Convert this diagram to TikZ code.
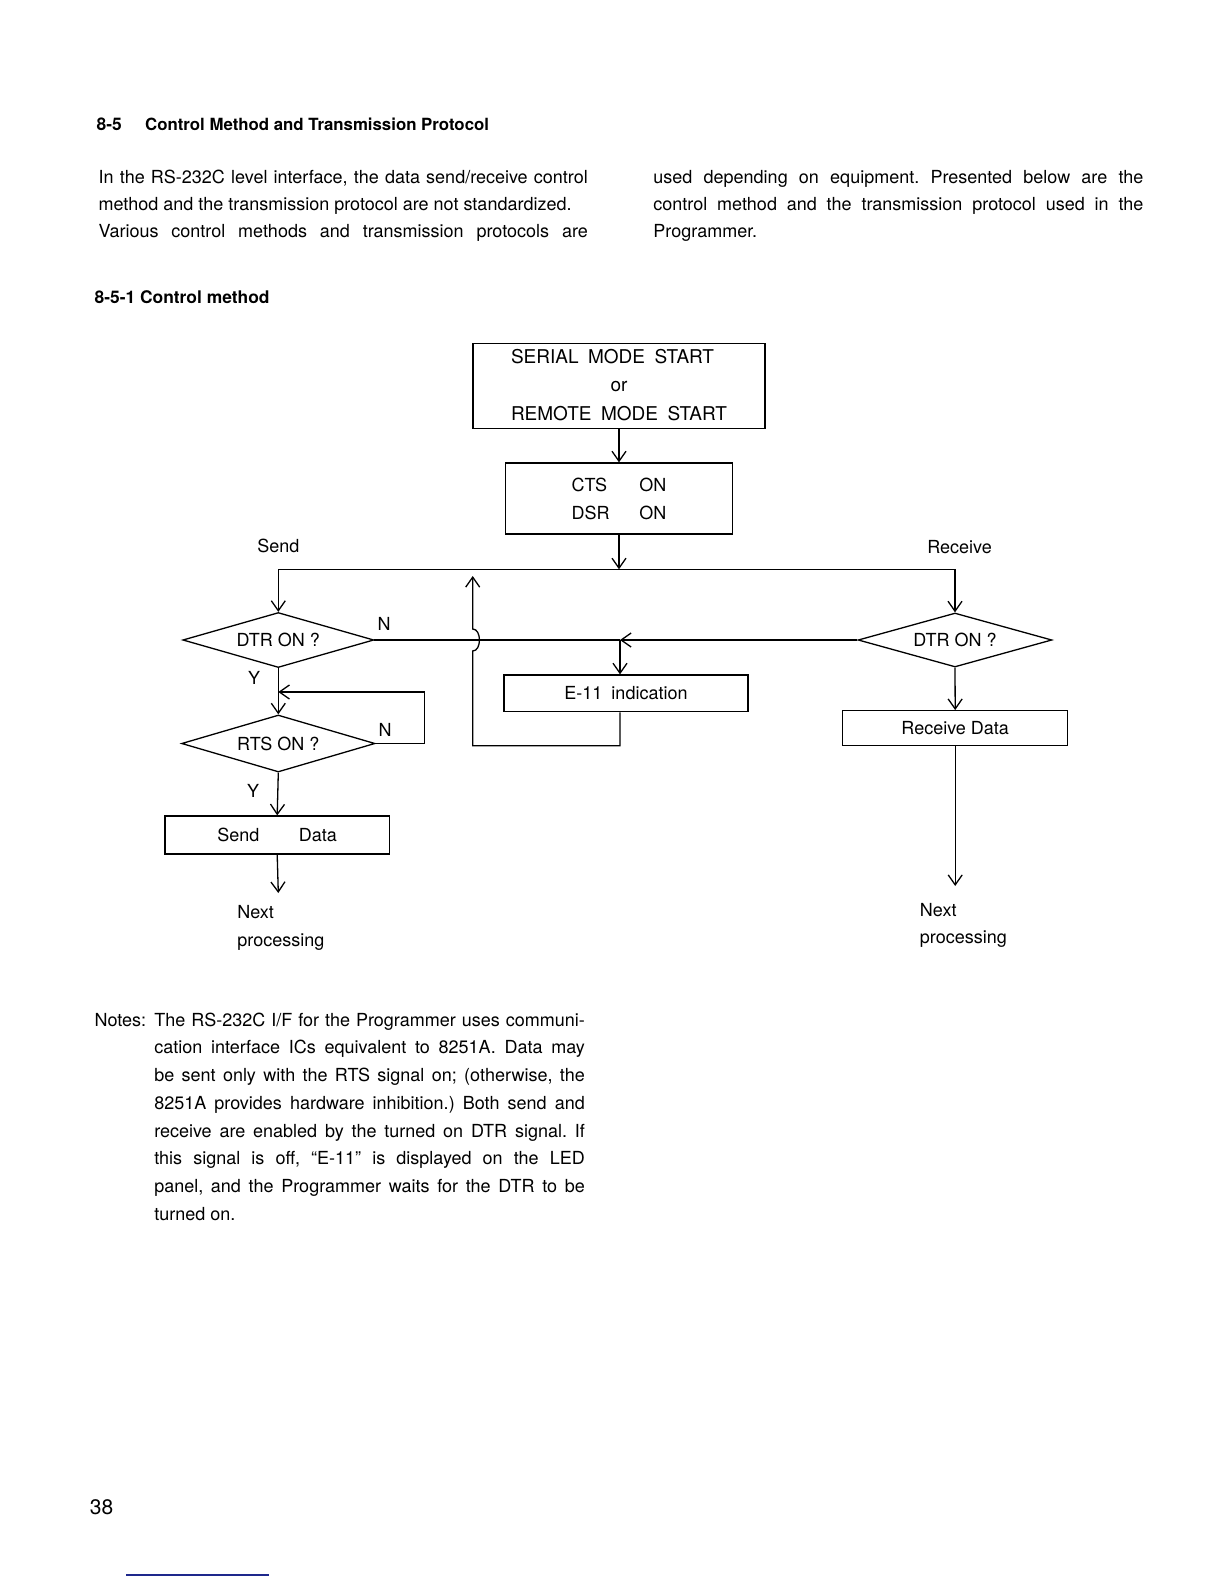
\documentclass[tikz,border=0pt]{standalone}
\usepackage{fontspec}
\setmainfont{TeX Gyre Heros}
\usetikzlibrary{shapes.geometric,arrows.meta}
\definecolor{rulenavy}{RGB}{30,40,140}
\newcommand{\spreadline}[2]{\makebox[#1][s]{#2}}
\frenchspacing

\tikzset{
  box/.style={draw, inner sep=0pt},
  decision/.style={draw, diamond, aspect=3.5, inner sep=0pt},
  txt/.style={anchor=base west, inner sep=0pt},
  yn/.style={inner sep=0pt},
  bodyfont/.style={font=\fontsize{9}{11}\selectfont},
  headfont/.style={font=\bfseries\fontsize{8.7}{10}\selectfont}
}

\begin{document}
\begin{tikzpicture}[x=0.5pt, y=-0.5pt, line width=0.65pt,
  >={Straight Barb[length=5pt,width=7pt]}, every node/.style={bodyfont}]
\useasboundingbox (0,0) rectangle (1224,1584);

% headings and text
\node[txt, headfont] (secno) at (96,131) {8-5};
\node[txt, headfont, font=\bfseries\fontsize{8.4}{10}\selectfont] (sectitle) at (144.5,131) {Control Method and Transmission Protocol};
\node[txt] (introa) at (98,183.5) {\spreadline{244.6pt}{In the RS-232C level interface, the data send/receive control}};
\node[txt] (introb) at (98,210.7) {method and the transmission protocol are not standardized.};
\node[txt] (introc) at (98,237.9) {\spreadline{244.6pt}{Various control methods and transmission protocols are}};
\node[txt] (introd) at (652.8,183.5) {\spreadline{245pt}{used depending on equipment. Presented below are the}};
\node[txt] (introe) at (652.8,210.7) {\spreadline{245pt}{control method and the transmission protocol used in the}};
\node[txt] (introf) at (652.8,237.9) {Programmer.};
\node[txt, headfont] (subsec) at (94,303) {8-5-1 Control method};

% flowchart
\node[box, minimum width=146pt, minimum height=42pt,
  font=\fontsize{9.5}{14.25}\selectfont] (start) at (619,386)
  {\begin{tabular}{@{}l@{}}SERIAL\enskip MODE\enskip START\\
   \multicolumn{1}{@{}c@{}}{or}\\REMOTE\enskip MODE\enskip START\end{tabular}};
\node[box, minimum width=113.3pt, minimum height=35.5pt, align=left,
  font=\fontsize{9}{14}\selectfont] (cts) at (619,498.5)
  {\makebox[34pt][l]{CTS}ON\\\makebox[34pt][l]{DSR}ON};
\node[txt] (sendlbl) at (256.7,552) {Send};
\node[txt] (recvlbl) at (926.7,553) {Receive};
\coordinate (busL) at (278.3,569.3);
\coordinate (busR) at (955,569.3);

\node[decision, minimum width=95.5pt, minimum height=27.5pt] (dtrS) at (278.3,640) {DTR ON ?};
\node[decision, minimum width=96.7pt, minimum height=28.5pt] (rts) at (278.3,743.5) {RTS ON ?};
\node[box, minimum width=112.2pt, minimum height=19pt] (senddata) at (277.2,835)
  {\makebox[40.8pt][l]{Send}Data};
\node[decision, minimum width=96.9pt, minimum height=27pt] (dtrR) at (955,640) {DTR ON ?};
\node[box, minimum width=112.5pt, minimum height=17.5pt] (recvdata) at (955.2,728.2) {Receive Data};
\node[box, minimum width=122pt, minimum height=18.3pt] (e11) at (626,693.3) {E-11\enskip indication};

\node[yn] (nS) at (384,624) {N};
\node[yn] (nR) at (385,730) {N};
\node[yn] (yS) at (254,678) {Y};
\node[yn] (yR) at (253,791) {Y};

\coordinate (junc) at (620,640);
\coordinate (rtsloop) at (424.3,692);
\coordinate (retA) at (620,745.7);
\coordinate (retB) at (472.7,745.7);
\coordinate (retC) at (472.7,651);
\coordinate (retTop) at (472.7,576);
\coordinate (sendend) at (278.3,893);
\coordinate (recvend) at (955.2,886);

\draw[->] (start.south) -- (cts.north);
\draw[->] (cts.south) -- (cts.south |- busL);
\draw (busL) -- (busR);
\draw[->] (busL) -- (dtrS.north);
\draw[->] (busR) -- (dtrR.north);

\draw[->] (dtrS.south) -- (rts.north);
\draw[->] (rts.east) -| (rtsloop) -- (dtrS.south |- rtsloop);
\draw[->] (rts.south) -- (senddata.north);
\draw[->] (senddata.south) -- (sendend);

\draw (dtrS.east) -- (junc);
\draw[->] (dtrR.west) -- (junc);
\draw[->] (junc) -- (junc |- e11.north);
\draw[->] (e11.south -| junc) -- (retA) -- (retB) -- (retC)
  .. controls +(9,0) and +(9,0) .. ++(0,-22) -- (retTop);

\draw[->] (dtrR.south) -- (recvdata.north);
\draw[->] (recvdata.south) -- (recvend);

\node[txt] (nextS) at (236.7,918.5) {Next};
\node[txt] (procS) at (236.7,946) {processing};
\node[txt] (nextR) at (919.3,916) {Next};
\node[txt] (procR) at (919.3,943.5) {processing};

% notes
\node[txt] (notes) at (94,1026.2) {Notes:};
\node[txt] (notea) at (153.6,1026.2) {\spreadline{215.3pt}{The RS-232C I/F for the Programmer uses communi-}};
\node[txt] (noteb) at (153.6,1053.9) {\spreadline{215.3pt}{cation interface ICs equivalent to 8251A. Data may}};
\node[txt] (notec) at (153.6,1081.6) {\spreadline{215.3pt}{be sent only with the RTS signal on; (otherwise, the}};
\node[txt] (noted) at (153.6,1109.3) {\spreadline{215.3pt}{8251A provides hardware inhibition.) Both send and}};
\node[txt] (notee) at (153.6,1137) {\spreadline{215.3pt}{receive are enabled by the turned on DTR signal. If}};
\node[txt] (notef) at (153.6,1164.7) {\spreadline{215.3pt}{this signal is off, ``E-11'' is displayed on the LED}};
\node[txt] (noteg) at (153.6,1192.4) {\spreadline{215.3pt}{panel, and the Programmer waits for the DTR to be}};
\node[txt] (noteh) at (153.6,1220.1) {turned on.};

% page foot
\node[font=\fontsize{10.5}{12}\selectfont] (pageno) at (101.5,1506.7) {38};
\coordinate (footL) at (126.3,1574.5);
\coordinate (footR) at (268.8,1574.5);
\draw[rulenavy, line width=1pt] (footL) -- (footR);
\end{tikzpicture}
\end{document}
